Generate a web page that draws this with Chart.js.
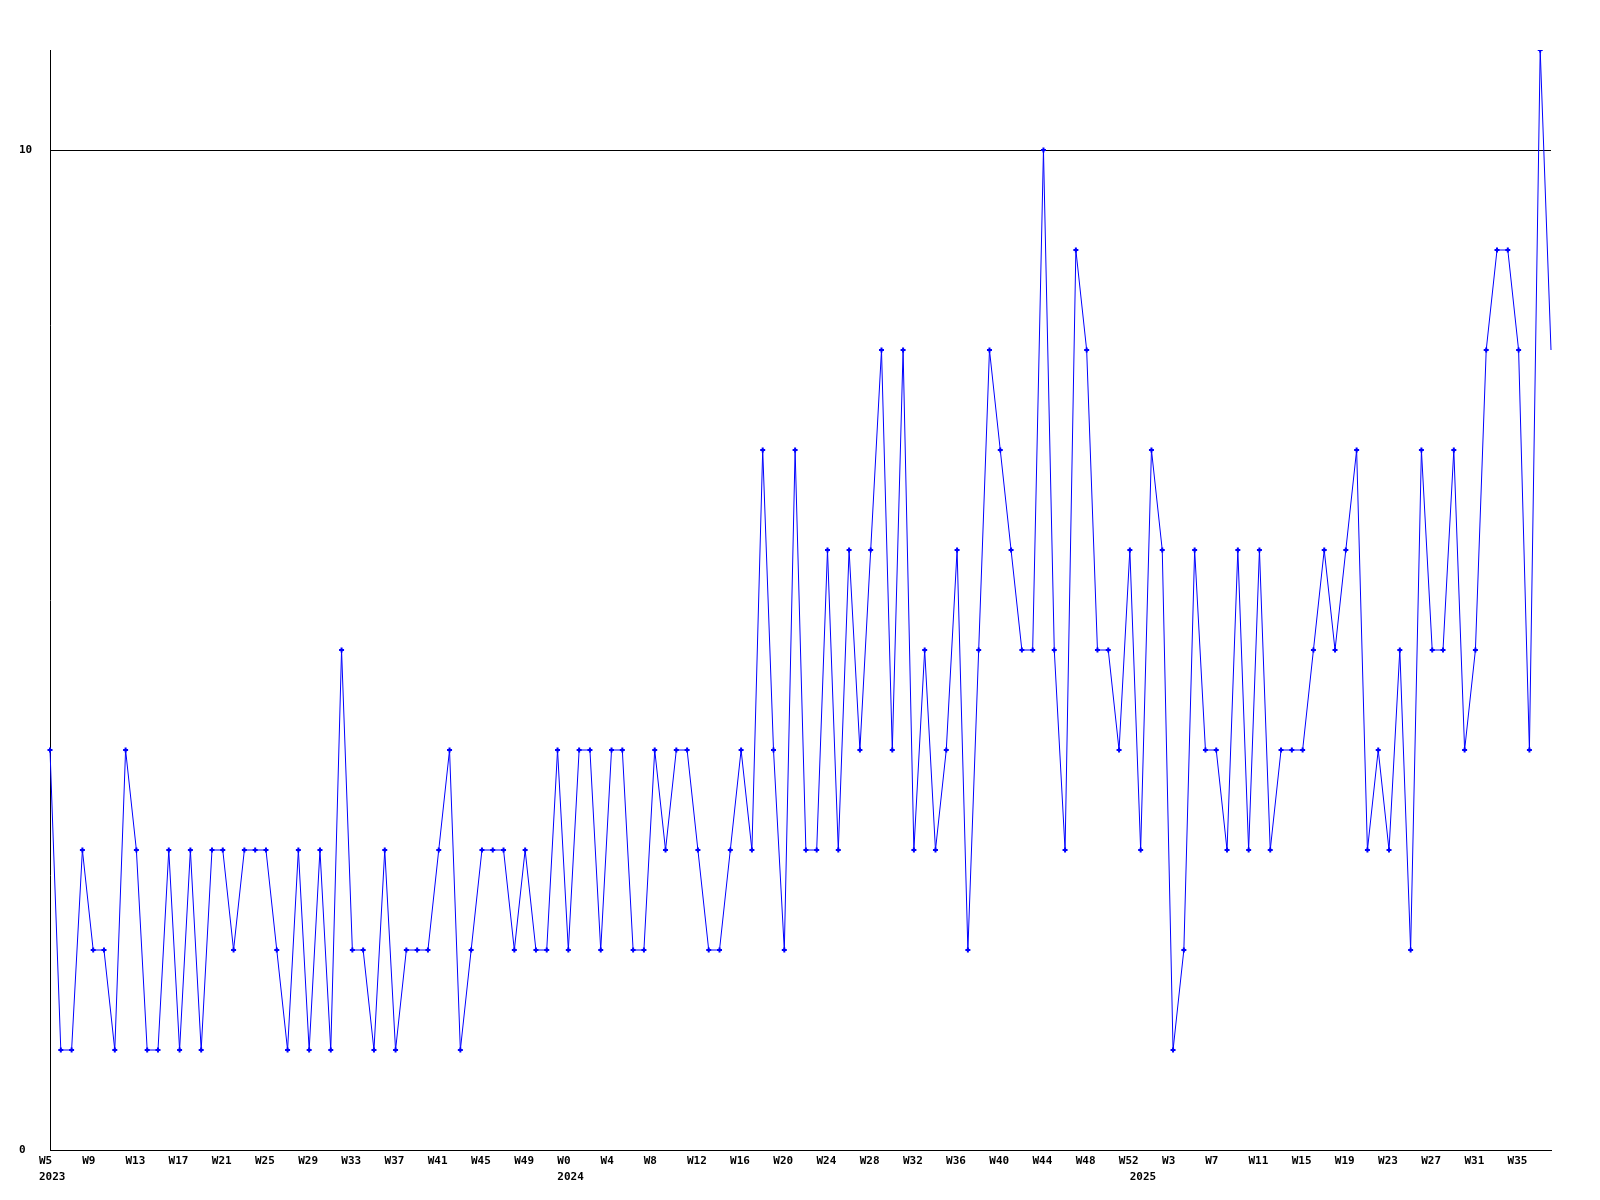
<!DOCTYPE html>
<html>
<head>
<meta charset="utf-8">
<script src="https://cdn.jsdelivr.net/npm/chart.js@4/dist/chart.umd.min.js"></script>
<style>
  html, body { margin: 0; padding: 0; background: #fff; }
  #wrap { width: 1600px; height: 1200px; }
</style>
</head>
<body>
<div id="wrap"><canvas id="weekly"></canvas></div>
<script>
// ── Data ──────────────────────────────────────────────────────────────────
const weekLabels = [
  // 2023
  "W5","W6","W7","W8","W9","W10","W11","W12","W13","W14","W15","W16",
  "W17","W18","W19","W20","W21","W22","W23","W24","W25","W26","W27","W28",
  "W29","W30","W31","W32","W33","W34","W35","W36","W37","W38","W39","W40",
  "W41","W42","W43","W44","W45","W46","W47","W48","W49","W50","W51","W52",
  // 2024
  "W0","W1","W2","W3","W4","W5","W6","W7","W8","W9","W10","W11","W12",
  "W13","W14","W15","W16","W17","W18","W19","W20","W21","W22","W23","W24",
  "W25","W26","W27","W28","W29","W30","W31","W32","W33","W34","W35","W36",
  "W37","W38","W39","W40","W41","W42","W43","W44","W45","W46","W47","W48",
  "W49","W50","W51","W52",
  // 2025
  "W0","W1","W2","W3","W4","W5","W6","W7","W8","W9","W10","W11","W12",
  "W13","W14","W15","W16","W17","W18","W19","W20","W21","W22","W23","W24",
  "W25","W26","W27","W28","W29","W30","W31","W32","W33","W34","W35","W36",
  "W37","W38",
];

const yearStartIndex = [0, 48, 101];
const yearNames = ["2023", "2024", "2025"];

const counts = [
  4, 1, 1, 3, 2, 2, 1, 4, 3, 1,
  1, 3, 1, 3, 1, 3, 3, 2, 3, 3,
  3, 2, 1, 3, 1, 3, 1, 5, 2, 2,
  1, 3, 1, 2, 2, 2, 3, 4, 1, 2,
  3, 3, 3, 2, 3, 2, 2, 4, 2, 4,
  4, 2, 4, 4, 2, 2, 4, 3, 4, 4,
  3, 2, 2, 3, 4, 3, 7, 4, 2, 7,
  3, 3, 6, 3, 6, 4, 6, 8, 4, 8,
  3, 5, 3, 4, 6, 2, 5, 8, 7, 6,
  5, 5, 10, 5, 3, 9, 8, 5, 5, 4,
  6, 3, 7, 6, 1, 2, 6, 4, 4, 3,
  6, 3, 6, 3, 4, 4, 4, 5, 6, 5,
  6, 7, 3, 4, 3, 5, 2, 7, 5, 5,
  7, 4, 5, 8, 9, 9, 8, 4, 11, 8,
];

const yTicks = [0, 10];
const Y_MAX = 11;
const LABEL_EVERY = 4;

// ── Style ─────────────────────────────────────────────────────────────────
const LINE_COLOR = "#0000ff";
const AXIS_COLOR = "#000000";
const FONT = { family: "'DejaVu Sans Mono', 'Liberation Mono', monospace", size: 11, weight: "bold", lineHeight: 1.38 };

function xTickLabel(value, index) {
  const week = index % LABEL_EVERY === 0 ? weekLabels[index] : "";
  const y = yearStartIndex.indexOf(index);
  if (y >= 0) return [week, yearNames[y]];
  return week || null;
}

// the last point sits on the plot edge and has no marker in the original
const markerRadius = (ctx) => (ctx.dataIndex === counts.length - 1 ? 0 : 2.5);

new Chart(document.getElementById("weekly"), {
  type: "line",
  data: {
    labels: weekLabels,
    datasets: [
      {
        data: counts,
        borderColor: LINE_COLOR,
        borderWidth: 1,
        backgroundColor: LINE_COLOR,
        pointStyle: "cross",
        pointRadius: markerRadius,
        pointBorderWidth: 2,
        pointBorderColor: LINE_COLOR,
        tension: 0,
        fill: false,
      },
    ],
  },
  options: {
    responsive: true,
    maintainAspectRatio: false,
    animation: false,
    layout: { padding: { left: 19, top: 50, right: 49, bottom: 0 } },
    plugins: { legend: { display: false }, tooltip: { enabled: false } },
    scales: {
      x: {
        offset: false,
        grid: { display: false, drawTicks: false },
        border: { display: true, color: AXIS_COLOR, width: 1 },
        afterFit: (scale) => { scale.height = 50; },
        ticks: {
          autoSkip: false,
          maxRotation: 0,
          minRotation: 0,
          align: "start",
          labelOffset: -11,
          padding: 4,
          color: "#000",
          font: FONT,
          callback: xTickLabel,
        },
      },
      y: {
        min: 0,
        max: Y_MAX,
        afterBuildTicks: (scale) => { scale.ticks = yTicks.map((v) => ({ value: v })); },
        afterFit: (scale) => { scale.width = 31; },
        grid: { color: AXIS_COLOR, lineWidth: 1, drawTicks: false },
        border: { display: true, color: AXIS_COLOR, width: 1 },
        ticks: {
          crossAlign: "far",
          padding: 0,
          color: "#000",
          font: FONT,
        },
      },
    },
  },
});
</script>
</body>
</html>
